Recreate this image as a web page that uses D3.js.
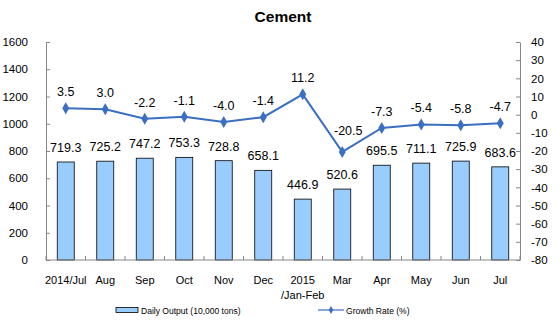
<!DOCTYPE html>
<html>
<head>
<meta charset="utf-8">
<script src="https://cdn.jsdelivr.net/npm/d3@7"></script>
<style>
html,body{margin:0;padding:0;background:#fff;}
svg{display:block;font-family:"Liberation Sans",Arial,sans-serif;}
</style>
</head>
<body>
<svg id="chart" width="560" height="324"></svg>
<script>
const categories = ["2014/Jul","Aug","Sep","Oct","Nov","Dec","2015\n/Jan-Feb","Mar","Apr","May","Jun","Jul"];
const dailyOutput = [719.3,725.2,747.2,753.3,728.8,658.1,446.9,520.6,695.5,711.1,725.9,683.6];
const growthRate = [3.5,3.0,-2.2,-1.1,-4.0,-1.4,11.2,-20.5,-7.3,-5.4,-5.8,-4.7];
const leftTicks = [0,200,400,600,800,1000,1200,1400,1600];
const rightTicks = [-80,-70,-60,-50,-40,-30,-20,-10,0,10,20,30,40];
const title = "Cement";
const legendLabels = ["Daily Output (10,000 tons)","Growth Rate (%)"];

const svg = d3.select("#chart");
const L = 46, R = 520, T = 42, B = 260;
const barColor = "#99CCFF", lineColor = "#3A6FC2", axisColor = "#868686";

const x = d3.scaleBand().domain(categories).range([L, R]).padding(0);
const yL = d3.scaleLinear().domain([0,1600]).range([B, T]);
const yR = d3.scaleLinear().domain([-80,40]).range([B, T]);
const bw = x.bandwidth();
const barW = bw * 0.43;
const cx = c => x(c) + bw / 2;

// title
svg.append("text").attr("x", (L+R)/2).attr("y", 22).attr("text-anchor","middle")
  .attr("font-size", 15.5).attr("font-weight","bold").text(title);

// left axis
const gL = svg.append("g").attr("transform", `translate(${L},0)`)
  .call(d3.axisLeft(yL).tickValues(leftTicks).tickSizeInner(-4).tickSizeOuter(0).tickPadding(18).tickFormat(d3.format("d")));
gL.selectAll("path,line").attr("stroke", axisColor);
gL.selectAll("text").attr("font-size", 11.5).attr("fill","#000").attr("font-family",null);

// right axis
const gR = svg.append("g").attr("transform", `translate(${R},0)`)
  .call(d3.axisRight(yR).tickValues(rightTicks).tickSizeInner(-4).tickSizeOuter(0).tickPadding(11).tickFormat(d => d3.format("d")(d).replace("−","-")));
gR.selectAll("path,line").attr("stroke", axisColor);
gR.selectAll("text").attr("font-size", 11.5).attr("fill","#000").attr("font-family",null);

// bars
svg.append("g").selectAll("rect").data(dailyOutput).join("rect")
  .attr("x", (d,i) => cx(categories[i]) - barW/2)
  .attr("y", d => yL(d))
  .attr("width", barW)
  .attr("height", d => yL(0) - yL(d))
  .attr("fill", barColor).attr("stroke", "#000").attr("stroke-width", 0.8);

// bar labels
svg.append("g").selectAll("text").data(dailyOutput).join("text")
  .attr("x", (d,i) => cx(categories[i]))
  .attr("y", d => yL(d) - 10)
  .attr("text-anchor","middle").attr("font-size", 12.5).attr("fill","#000")
  .text(d => d3.format(".1f")(d));

// bottom axis
svg.append("line").attr("x1", L).attr("x2", R).attr("y1", B).attr("y2", B).attr("stroke", axisColor);
const bounds = categories.map(c => x(c)).concat([R]);
svg.append("g").selectAll("line").data(bounds).join("line")
  .attr("x1", d => d).attr("x2", d => d).attr("y1", B).attr("y2", B - 4).attr("stroke", axisColor);
const xl = svg.append("g").selectAll("text").data(categories).join("text")
  .attr("x", c => cx(c)).attr("y", 284).attr("text-anchor","middle").attr("font-size", 11).attr("fill","#000");
xl.each(function(c){
  const parts = c.split("\n");
  d3.select(this).selectAll("tspan").data(parts).join("tspan")
    .attr("x", cx(c)).attr("dy", (p,i) => i === 0 ? 0 : 15).text(p => p);
});

// line
const line = d3.line().x((d,i) => cx(categories[i])).y(d => yR(d));
svg.append("path").datum(growthRate).attr("d", line)
  .attr("fill","none").attr("stroke", lineColor).attr("stroke-width", 2);
svg.append("g").selectAll("path").data(growthRate).join("path")
  .attr("transform", (d,i) => `translate(${cx(categories[i])},${yR(d)})`)
  .attr("d", d3.symbol(d3.symbolDiamond, 42)).attr("fill", lineColor);

// line labels
const minIdx = growthRate.indexOf(d3.min(growthRate));
svg.append("g").selectAll("text").data(growthRate).join("text")
  .attr("x", (d,i) => cx(categories[i]) + (i === minIdx ? 6 : 0))
  .attr("y", (d,i) => yR(d) - (i === minIdx ? 17 : 12))
  .attr("text-anchor","middle").attr("font-size", 12.5).attr("fill","#000")
  .text(d => d3.format(".1f")(d).replace("−","-"));

// legend
const ly = 310;
svg.append("rect").attr("x", 116).attr("y", ly - 2.5).attr("width", 22).attr("height", 5)
  .attr("fill", barColor).attr("stroke", "#000").attr("stroke-width", 0.8);
svg.append("text").attr("transform", `translate(141,${ly + 3.5}) scale(0.9,1)`)
  .attr("font-size", 9.5).attr("fill","#000").text(legendLabels[0]);
svg.append("line").attr("x1", 318).attr("x2", 344).attr("y1", ly).attr("y2", ly).attr("stroke", lineColor).attr("stroke-width", 1.2);
svg.append("path").attr("transform", `translate(331,${ly})`).attr("d", d3.symbol(d3.symbolDiamond, 18)).attr("fill", lineColor);
svg.append("text").attr("transform", `translate(346,${ly + 3.5}) scale(0.9,1)`)
  .attr("font-size", 9.5).attr("fill","#000").text(legendLabels[1]);
</script>
</body>
</html>
